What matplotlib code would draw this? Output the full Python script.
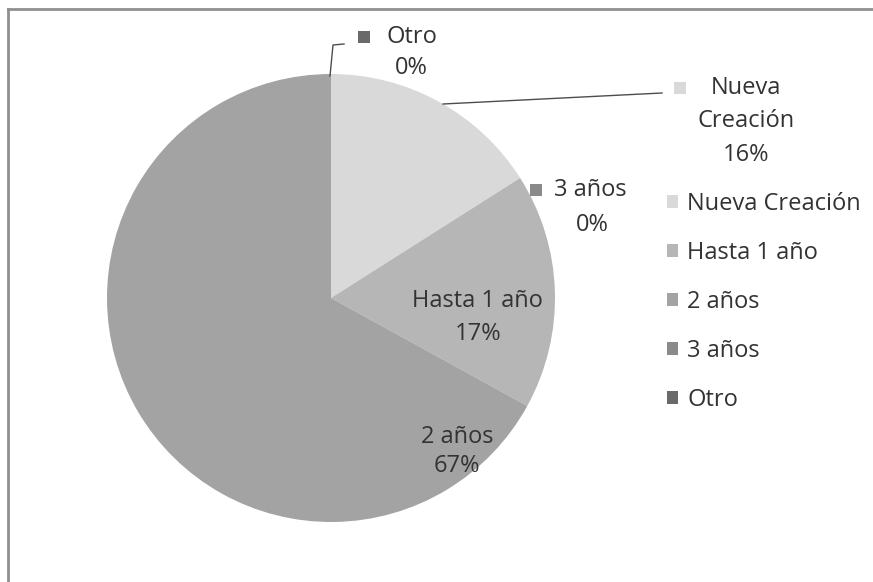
import matplotlib.pyplot as plt
from matplotlib.patches import Patch

plt.rcParams['font.family'] = ['Open Sans', 'DejaVu Sans']

categories = ["Nueva Creación", "Hasta 1 año", "2 años", "3 años", "Otro"]
values = [16, 17, 67, 0, 0]
colors = ["#d9d9d9", "#b6b6b6", "#a3a3a3", "#8a8a8a", "#6a6a6a"]

W, H = 873, 582
txt = "#333333"


def Y(y):
    # pixel rows from the top -> data coords
    return H - y


fig = plt.figure(figsize=(W / 100, H / 100), dpi=100)
ax = fig.add_axes([0, 0, 1, 1])

ax.pie(values, colors=colors, startangle=90, counterclock=False,
       center=(331, Y(298)), radius=224,
       wedgeprops=dict(linewidth=0))
ax.set_xlim(0, W)
ax.set_ylim(0, H)
ax.set_aspect('equal')
ax.axis('off')

# chart area border (top and left)
ax.plot([8, W], [Y(9), Y(9)], color="#8f8f8f", lw=2, clip_on=False)
ax.plot([8, 8], [Y(9), 0], color="#8f8f8f", lw=2, clip_on=False)

fs = 17


def pct(i):
    return "%d%%" % values[i]


# labels inside the slices
ax.text(477, Y(301), categories[1], ha='center', va='center', fontsize=fs, color=txt)
ax.text(478, Y(334), pct(1), ha='center', va='center', fontsize=fs, color=txt)
ax.text(457, Y(437), categories[2], ha='center', va='center', fontsize=fs, color=txt)
ax.text(457, Y(466), pct(2), ha='center', va='center', fontsize=fs, color=txt)

# outside labels with legend keys
ax.scatter([680], [Y(88)], marker='s', s=70, color=colors[0], lw=0)
ax.text(746, Y(88), "Nueva", ha='center', va='center', fontsize=fs, color=txt)
ax.text(746, Y(121), "Creación", ha='center', va='center', fontsize=fs, color=txt)
ax.text(746, Y(155), pct(0), ha='center', va='center', fontsize=fs, color=txt)
ax.plot([443, 662], [Y(104), Y(93)], color="#4d4d4d", lw=1)

ax.scatter([536], [Y(190)], marker='s', s=70, color=colors[3], lw=0)
ax.text(590, Y(190), categories[3], ha='center', va='center', fontsize=fs, color=txt)
ax.text(592, Y(225), pct(3), ha='center', va='center', fontsize=fs, color=txt)

ax.scatter([364], [Y(37)], marker='s', s=70, color=colors[4], lw=0)
ax.text(412, Y(37), categories[4], ha='center', va='center', fontsize=fs, color=txt)
ax.text(411, Y(68), pct(4), ha='center', va='center', fontsize=fs, color=txt)
ax.plot([330, 333, 344], [Y(76), Y(45), Y(44)], color="#4d4d4d", lw=1)

handles = [Patch(facecolor=c, edgecolor='none') for c in colors]
leg = fig.legend(handles, categories, loc='upper left',
                 bbox_to_anchor=(667 / W, 1 - 192 / H), frameon=False,
                 fontsize=fs, handlelength=0.45, handleheight=0.45,
                 handletextpad=0.4, labelspacing=1.06, borderpad=0,
                 borderaxespad=0)
for t in leg.get_texts():
    t.set_color(txt)

fig.savefig("out.png", dpi=100, facecolor='white')
